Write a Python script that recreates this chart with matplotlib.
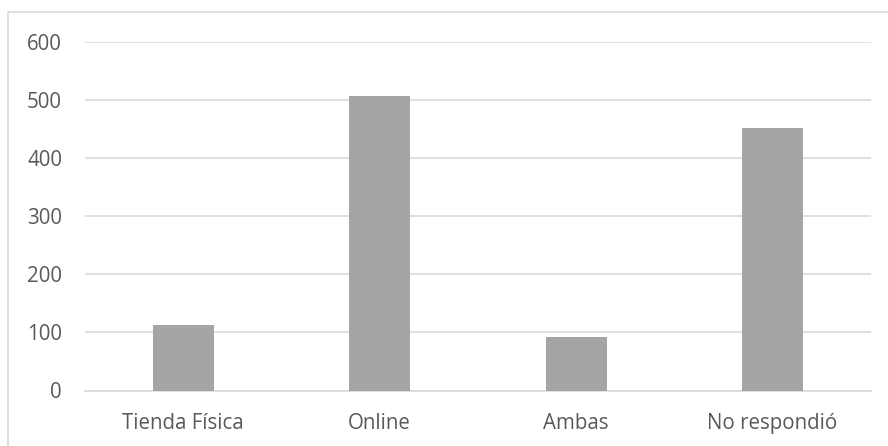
import matplotlib.pyplot as plt
from matplotlib.patches import Rectangle

categories = ['Tienda Física', 'Online', 'Ambas', 'No respondió']
values = [113, 507, 92, 452]
yticks = [0, 100, 200, 300, 400, 500, 600]

plt.rcParams['font.family'] = ['Open Sans', 'DejaVu Sans']

fig = plt.figure(figsize=(8.88, 4.46), dpi=100)
ax = fig.add_axes([85 / 888, 55.5 / 446, 785.7 / 888, 348.5 / 446])

# outer chart frame (only top and left edges visible in the crop)
fig.patches.append(Rectangle((8 / 888, -0.1), 1.0, (434 / 446) + 0.1,
                             transform=fig.transFigure, fill=False,
                             edgecolor='#d9d9d9', linewidth=1.2))

x = range(len(categories))
ax.bar(x, values, width=0.31, color='#a5a5a5', zorder=3)

ax.set_xlim(-0.5, len(categories) - 0.5)
ax.set_ylim(0, 600)
ax.set_yticks(yticks)
ax.set_xticks(list(x))
ax.set_xticklabels(categories)
ax.yaxis.grid(True, color='#d9d9d9', linewidth=1.2, zorder=0)
ax.tick_params(axis='both', length=0, labelsize=14.8, colors='#595959')
ax.tick_params(axis='y', pad=16.5)
ax.tick_params(axis='x', pad=16)
for side in ['top', 'right', 'left']:
    ax.spines[side].set_visible(False)
ax.spines['bottom'].set_color('#d9d9d9')
ax.spines['bottom'].set_linewidth(1.2)

fig.savefig('out.png', dpi=100)
